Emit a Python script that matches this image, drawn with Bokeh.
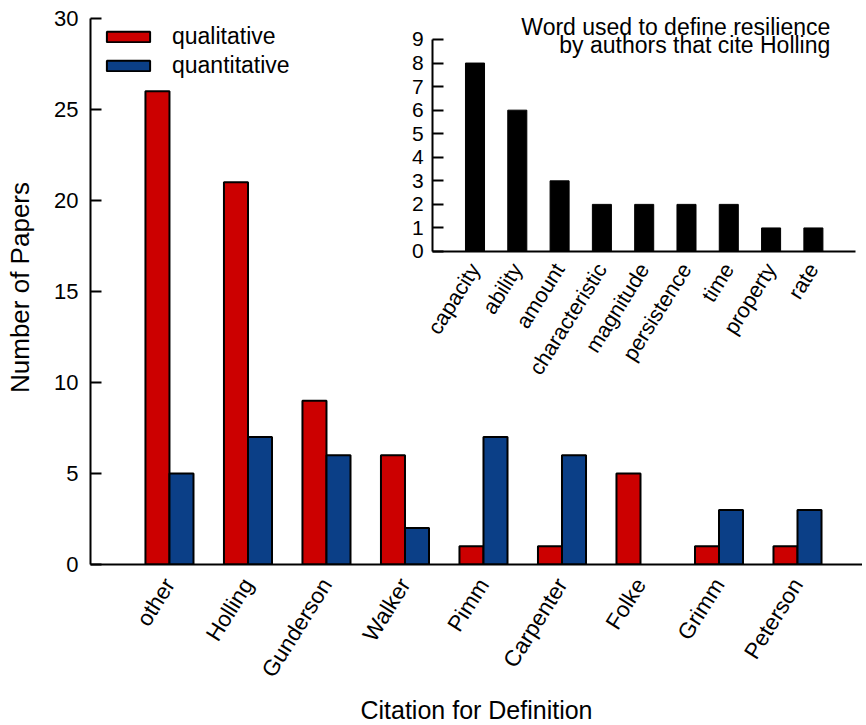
import math
import numpy as np
from bokeh.plotting import figure
from bokeh.models import Range1d, LinearAxis, FixedTicker, Label, Legend, ColumnDataSource
from bokeh.embed import file_html
from bokeh.resources import INLINE

# ---- data ----
citations = ["other", "Holling", "Gunderson", "Walker", "Pimm", "Carpenter", "Folke", "Grimm", "Peterson"]
qualitative = [26, 21, 9, 6, 1, 1, 5, 1, 1]
quantitative = [5, 7, 6, 2, 7, 6, 0, 3, 3]

words = ["capacity", "ability", "amount", "characteristic", "magnitude",
         "persistence", "time", "property", "rate"]
word_counts = [8, 6, 3, 2, 2, 2, 2, 1, 1]

main_y_ticks = [0, 5, 10, 15, 20, 25, 30]
inset_y_ticks = [0, 1, 2, 3, 4, 5, 6, 7, 8, 9]

# ---- style ----
FONT = "Liberation Sans"
RED = "#cc0000"
BLUE = "#0b3f87"

# frame spans 8px above the top (30) tick so the inset title is not clipped
p = figure(frame_width=772, frame_height=554,
           x_range=Range1d(-1.006, 8.828), y_range=Range1d(0, 30 + 8 / 18.2),
           x_axis_type=None, y_axis_type=None,
           output_backend="svg", toolbar_location=None,
           min_border_left=90, min_border_top=10, min_border_right=0, min_border_bottom=0)
p.outline_line_color = None
p.background_fill_color = "white"
p.border_fill_color = "white"

idx = np.arange(len(citations))
half = 0.153

q = np.array(qualitative)
n = np.array(quantitative)
src_q = ColumnDataSource(dict(x=(idx - half)[q > 0], top=q[q > 0]))
src_n = ColumnDataSource(dict(x=(idx + half)[n > 0], top=n[n > 0]))

r_q = p.vbar(x="x", top="top", width=2 * half, bottom=0, source=src_q,
             fill_color=RED, line_color="black", line_width=2)
r_n = p.vbar(x="x", top="top", width=2 * half, bottom=0, source=src_n,
             fill_color=BLUE, line_color="black", line_width=2)


def style_axis(ax, font_size):
    ax.axis_line_width = 2
    ax.axis_line_color = "black"
    ax.major_tick_line_width = 2
    ax.major_tick_line_color = "black"
    ax.minor_tick_in = 0
    ax.minor_tick_out = 0
    ax.major_label_text_font = FONT
    ax.major_label_text_font_size = font_size
    ax.major_label_text_color = "black"
    ax.axis_label_text_font = FONT
    ax.axis_label_text_font_style = "normal"
    ax.axis_label_text_color = "black"


# main y axis
yax = LinearAxis(ticker=FixedTicker(ticks=main_y_ticks), axis_label="Number of Papers",
                 bounds=(0, 30))
style_axis(yax, "22px")
yax.major_tick_in = 11
yax.major_tick_out = 0
yax.major_label_standoff = 12
yax.axis_label_text_font_size = "26px"
yax.axis_label_standoff = 16
p.add_layout(yax, "left")

# main x axis
xax = LinearAxis(ticker=FixedTicker(ticks=list(idx)), axis_label="Citation for Definition",
                 major_label_overrides={int(i): c for i, c in zip(idx, citations)},
                 major_label_orientation=math.radians(58))
style_axis(xax, "22.5px")
xax.major_tick_in = 0
xax.major_tick_out = 0
xax.major_label_standoff = 16
xax.axis_label_text_font_size = "25px"
xax.axis_label_standoff = 5
p.add_layout(xax, "below")

# legend
legend = Legend(items=[("qualitative", [r_q]), ("quantitative", [r_n])],
                location=(11, 485), margin=0, padding=0, spacing=2,
                glyph_width=54, glyph_height=13, label_standoff=17,
                label_text_font=FONT, label_text_font_size="23px",
                label_text_color="black",
                border_line_color=None, background_fill_alpha=0)
p.add_layout(legend)

# ---- inset (own scales) ----
p.extra_x_ranges = {"ix": Range1d(-9.090, 9.161)}
p.extra_y_ranges = {"iy": Range1d(-13.288, 10.231)}

widx = np.arange(len(words))
p.vbar(x=widx, top=word_counts, width=0.45, bottom=0,
       x_range_name="ix", y_range_name="iy",
       fill_color="black", line_color="black", line_width=1)

iy_ax = LinearAxis(x_range_name="ix", y_range_name="iy", fixed_location=-1,
                   bounds=(0, 9), ticker=FixedTicker(ticks=inset_y_ticks))
style_axis(iy_ax, "21px")
iy_ax.major_tick_in = 11
iy_ax.major_tick_out = 0
iy_ax.major_label_standoff = 9
p.add_layout(iy_ax, "left")

ix_ax = LinearAxis(x_range_name="ix", y_range_name="iy", fixed_location=0,
                   bounds=(-1, 9), ticker=FixedTicker(ticks=list(widx)),
                   major_label_overrides={int(i): w for i, w in zip(widx, words)},
                   major_label_orientation=math.radians(58))
style_axis(ix_ax, "21.5px")
ix_ax.major_tick_in = 0
ix_ax.major_tick_out = 0
ix_ax.major_label_standoff = 14
p.add_layout(ix_ax, "below")

t1 = Label(x=8.40, y=9.55, x_range_name="ix", y_range_name="iy",
           text="Word used to define resilience", text_align="right",
           text_baseline="alphabetic", text_font=FONT, text_font_size="23px", text_color="black")
t2 = Label(x=8.40, y=8.76, x_range_name="ix", y_range_name="iy",
           text="by authors that cite Holling", text_align="right",
           text_baseline="alphabetic", text_font=FONT, text_font_size="23px", text_color="black")
p.add_layout(t1)
p.add_layout(t2)

open("out.html", "w").write(file_html(p, INLINE))
